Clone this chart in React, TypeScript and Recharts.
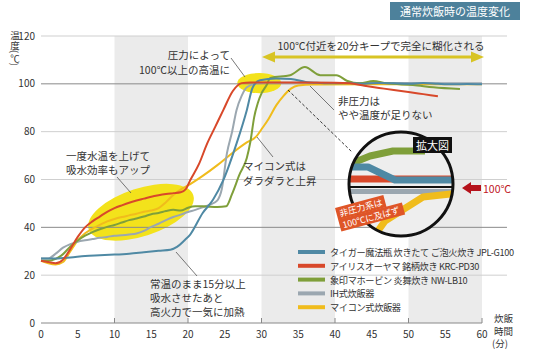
import React from "react";
import {
  LineChart,
  Line,
  XAxis,
  YAxis,
  ReferenceArea,
  ReferenceLine,
  Legend,
} from "recharts";

// time (min) / temperature (°C)
const tigerData = [
  { t: 0, v: 27 }, { t: 2, v: 27 }, { t: 4, v: 27.4 }, { t: 6, v: 28 },
  { t: 8, v: 28.3 }, { t: 10, v: 28.6 }, { t: 12, v: 29 }, { t: 14, v: 29.6 },
  { t: 16, v: 30.2 }, { t: 17.6, v: 30.6 }, { t: 18.5, v: 31.8 }, { t: 19.5, v: 34.5 },
  { t: 20.3, v: 37 }, { t: 22, v: 46 }, { t: 23.4, v: 51.5 }, { t: 24.8, v: 59.7 },
  { t: 26.6, v: 75 }, { t: 28, v: 89 }, { t: 28.8, v: 98.5 }, { t: 29.8, v: 101.5 },
  { t: 32, v: 102.2 }, { t: 34, v: 102 }, { t: 36, v: 100.8 }, { t: 38, v: 100.4 },
  { t: 40, v: 100.2 }, { t: 42, v: 100.3 }, { t: 44, v: 100 }, { t: 46, v: 100.4 },
  { t: 48, v: 100.2 }, { t: 50, v: 100 }, { t: 52, v: 100.3 }, { t: 54, v: 100 },
  { t: 56, v: 99.8 }, { t: 58, v: 99.9 }, { t: 60, v: 99.8 },
];

const irisData = [
  { t: 0, v: 26 }, { t: 1, v: 25.5 }, { t: 2, v: 25 }, { t: 3, v: 26.5 },
  { t: 4, v: 31 }, { t: 5, v: 36 }, { t: 6, v: 40 }, { t: 7, v: 42.5 },
  { t: 8, v: 44.5 }, { t: 9, v: 46.5 }, { t: 10, v: 48 }, { t: 11, v: 49.2 },
  { t: 12, v: 50.3 }, { t: 13, v: 51.2 }, { t: 14, v: 52 }, { t: 15, v: 52.8 },
  { t: 16, v: 53.4 }, { t: 17, v: 53.9 }, { t: 18, v: 54.3 }, { t: 19, v: 54.7 },
  { t: 19.7, v: 56 }, { t: 20.3, v: 59.7 }, { t: 21.5, v: 66.5 }, { t: 22.6, v: 75 },
  { t: 23.7, v: 82 }, { t: 24.8, v: 89 }, { t: 26.1, v: 97 }, { t: 27.3, v: 100.3 },
  { t: 28.5, v: 100.6 }, { t: 35, v: 100.6 }, { t: 40, v: 100.5 }, { t: 42, v: 100.2 },
  { t: 44, v: 99.2 }, { t: 46, v: 98.3 }, { t: 48, v: 97.4 }, { t: 50, v: 96.6 },
  { t: 52, v: 95.7 }, { t: 54, v: 94.8 },
];

const zojirushiData = [
  { t: 0, v: 26 }, { t: 1, v: 26 }, { t: 2, v: 26.8 }, { t: 3, v: 28.8 },
  { t: 4, v: 32 }, { t: 5, v: 34.5 }, { t: 6, v: 36.5 }, { t: 7, v: 38 },
  { t: 8, v: 39.2 }, { t: 9, v: 40.2 }, { t: 10, v: 41 }, { t: 11, v: 42 },
  { t: 12, v: 43 }, { t: 13, v: 43.7 }, { t: 14, v: 44.5 }, { t: 15, v: 45.5 },
  { t: 16, v: 46 }, { t: 17, v: 46.8 }, { t: 18, v: 47.3 }, { t: 19, v: 47 },
  { t: 20, v: 48.2 }, { t: 21, v: 48.8 }, { t: 22, v: 48.8 }, { t: 23, v: 48.6 },
  { t: 24, v: 48.5 }, { t: 25.2, v: 48.8 }, { t: 26, v: 54 }, { t: 27, v: 62 },
  { t: 28, v: 69 }, { t: 28.5, v: 76 }, { t: 29, v: 86 }, { t: 29.5, v: 92 },
  { t: 30, v: 96 }, { t: 30.7, v: 99.5 }, { t: 31.2, v: 102.5 }, { t: 33.9, v: 103.6 },
  { t: 35.9, v: 107 }, { t: 38, v: 103.6 }, { t: 40.2, v: 103.6 }, { t: 41.6, v: 101.3 },
  { t: 43.4, v: 100.2 }, { t: 45.2, v: 101.2 }, { t: 47, v: 100.2 }, { t: 50.6, v: 99.5 },
  { t: 53.4, v: 98.6 }, { t: 57, v: 97.8 },
];

const ihData = [
  { t: 0, v: 27 }, { t: 1, v: 27 }, { t: 2, v: 29 }, { t: 3, v: 31.5 },
  { t: 4, v: 33 }, { t: 5, v: 34 }, { t: 6, v: 34.6 }, { t: 7, v: 35.1 },
  { t: 8, v: 35.6 }, { t: 9, v: 36 }, { t: 10, v: 36.5 }, { t: 11, v: 36.7 },
  { t: 12, v: 37 }, { t: 13, v: 37.4 }, { t: 14, v: 38.5 }, { t: 15, v: 40.2 },
  { t: 16, v: 41.5 }, { t: 17, v: 43 }, { t: 18, v: 44.3 }, { t: 19, v: 45.3 },
  { t: 20, v: 46.4 }, { t: 21, v: 47.3 }, { t: 22, v: 48.4 }, { t: 23, v: 49.5 },
  { t: 24, v: 51.3 }, { t: 24.6, v: 56 }, { t: 25.3, v: 71 }, { t: 26, v: 80 },
  { t: 26.6, v: 89 }, { t: 27.3, v: 95 }, { t: 28, v: 98.6 }, { t: 29.4, v: 100.2 },
  { t: 31, v: 100.5 }, { t: 40, v: 100.4 }, { t: 50, v: 100.3 }, { t: 60, v: 100.2 },
];

const maiconData = [
  { t: 0, v: 26 }, { t: 1, v: 25 }, { t: 2, v: 24.5 }, { t: 3, v: 25.5 },
  { t: 4, v: 30 }, { t: 5, v: 34.5 }, { t: 6, v: 37.5 }, { t: 7, v: 39.5 },
  { t: 8, v: 41 }, { t: 9, v: 42.5 }, { t: 10, v: 43.5 }, { t: 11, v: 44.3 },
  { t: 12, v: 45 }, { t: 13, v: 45.7 }, { t: 14, v: 46.5 }, { t: 15, v: 47 },
  { t: 16, v: 48 }, { t: 17, v: 50.5 }, { t: 18, v: 53.5 }, { t: 19, v: 55.8 },
  { t: 20, v: 57.5 }, { t: 22, v: 61.5 }, { t: 24, v: 66 }, { t: 26, v: 71 },
  { t: 28, v: 75.5 }, { t: 29.3, v: 78 }, { t: 30, v: 81 }, { t: 31, v: 85.5 },
  { t: 32, v: 91 }, { t: 33, v: 95 }, { t: 34, v: 98 }, { t: 35, v: 99.3 },
  { t: 37, v: 99.7 }, { t: 45, v: 99.8 }, { t: 60, v: 99.8 },
];

const xTicks = [0, 5, 10, 15, 20, 25, 30, 35, 40, 45, 50, 55, 60];
const yTicks = [0, 20, 40, 60, 80, 100, 120];
const shadeBands = [[10, 20], [30, 40], [50, 60]];
const gridLevels = [20, 40, 60, 80, 100, 120];
const strongLevels = [40, 100];

// drawing order (back to front)
const series = [
  { name: "マイコン式炊飯器", color: "#f0bc1c", data: maiconData },
  { name: "IH式炊飯器", color: "#9ba7b0", data: ihData },
  { name: "象印マホービン 炎舞炊き NW-LB10", color: "#7f9f3a", data: zojirushiData },
  { name: "タイガー魔法瓶 炊きたて ご泡火炊き JPL-G100", color: "#4f89a4", data: tigerData },
  { name: "アイリスオーヤマ 銘柄炊き KRC-PD30", color: "#d8482a", data: irisData },
];
const legendOrder = [
  "タイガー魔法瓶 炊きたて ご泡火炊き JPL-G100",
  "アイリスオーヤマ 銘柄炊き KRC-PD30",
  "象印マホービン 炎舞炊き NW-LB10",
  "IH式炊飯器",
  "マイコン式炊飯器",
];

const FONT = "'Noto Sans CJK JP', 'Noto Sans', sans-serif";
const TXT = "#333";

function XTick(props: any) {
  const { x, y, payload } = props;
  const v = payload.value;
  return (
    <g>
      {v % 10 === 0 && v > 0 && (
        <line x1={x} x2={x} y1={y - 10} y2={y - 15} stroke="#888" />
      )}
      <text x={x} y={y} textAnchor="middle" dominantBaseline="central" fontSize={10} fill={TXT}>
        {v}
      </text>
    </g>
  );
}

function LegendBox(props: any) {
  const items = [...(props.payload || [])].sort(
    (a: any, b: any) => legendOrder.indexOf(a.value) - legendOrder.indexOf(b.value)
  );
  return (
    <svg width={250} height={72} style={{ display: "block" }}>
      {items.map((it: any, i: number) => (
        <g key={it.value} transform={`translate(0, ${7 + i * 13.8})`}>
          <line x1={0} x2={27} y1={0} y2={0} stroke={it.color} strokeWidth={4} />
          <text
            x={32}
            y={0}
            dominantBaseline="central"
            fontSize={9.2}
            letterSpacing={-0.35}
            fill={TXT}
            fontFamily={FONT}
          >
            {it.value}
          </text>
        </g>
      ))}
    </svg>
  );
}

const tiltedEllipse = (p: any) => (
  <ellipse
    cx={p.x + p.width / 2}
    cy={p.y + p.height / 2}
    rx={p.width * 0.52}
    ry={p.height * 0.42}
    transform={`rotate(-18 ${p.x + p.width / 2} ${p.y + p.height / 2})`}
    fill="#f3e21b"
  />
);
const flatEllipse = (p: any) => (
  <ellipse
    cx={p.x + p.width / 2}
    cy={p.y + p.height / 2}
    rx={p.width / 2}
    ry={p.height / 2}
    fill="#f3e21b"
  />
);

function Annotations() {
  const t = { fontSize: 10.5, fill: TXT, dominantBaseline: "central" as const };
  return (
    <svg
      width={551}
      height={353}
      style={{ position: "absolute", left: 0, top: 0, pointerEvents: "none", fontFamily: FONT }}
    >
      <defs>
        <clipPath id="lens">
          <circle cx={401} cy={184} r={52} />
        </clipPath>
      </defs>

      {/* title box */}
      <rect x={390} y={2} width={130} height={18} fill="#4d819b" />
      <text x={455} y={11} textAnchor="middle" {...t} fontSize={11} fill="#fff">通常炊飯時の温度変化</text>

      {/* axis titles */}
      <text x={15} y={31} fontSize={9.5} fill={TXT} style={{ writingMode: "vertical-rl" } as any}>温度(℃)</text>
      <text x={494} y={318} fontSize={9.5} fill={TXT} dominantBaseline="central">炊飯</text>
      <text x={494} y={330.5} fontSize={9.5} fill={TXT} dominantBaseline="central">時間</text>
      <text x={492} y={343} fontSize={9.5} fill={TXT} dominantBaseline="central">(分)</text>

      {/* keep-time arrow */}
      <text x={381} y={45} textAnchor="middle" {...t}>100℃付近を20分キープで完全に糊化される</text>
      <line x1={272} x2={474} y1={57} y2={57} stroke="#d8c424" strokeWidth={3} />
      <polygon points="262,57 275,51.5 275,62.5" fill="#d8c424" />
      <polygon points="484,57 471,51.5 471,62.5" fill="#d8c424" />

      {/* callouts */}
      <text x={230} y={54} textAnchor="end" {...t}>圧力によって</text>
      <text x={230} y={69} textAnchor="end" {...t}>100℃以上の高温に</text>
      <line x1={231} y1={58} x2={245} y2={77} stroke="#555" strokeWidth={0.8} />

      <text x={338} y={100} {...t}>非圧力は</text>
      <text x={338} y={114} {...t}>やや温度が足りない</text>
      <line x1={310} y1={86} x2={334} y2={110} stroke="#555" strokeWidth={0.8} />
      <line x1={288} y1={90} x2={352} y2={152} stroke="#222" strokeWidth={0.9} strokeDasharray="3 2" />

      <text x={243} y={165} {...t}>マイコン式は</text>
      <text x={243} y={180} {...t}>ダラダラと上昇</text>
      <line x1={257} y1={137} x2={273} y2={157} stroke="#555" strokeWidth={0.8} />

      <text x={108} y={155} textAnchor="middle" {...t}>一度水温を上げて</text>
      <text x={108} y={169} textAnchor="middle" {...t}>吸水効率もアップ</text>
      <line x1={117} y1={177} x2={131} y2={193} stroke="#555" strokeWidth={0.8} />

      <text x={150} y={283} {...t}>常温のまま15分以上</text>
      <text x={150} y={297} {...t}>吸水させたあと</text>
      <text x={150} y={311} {...t}>高火力で一気に加熱</text>
      <line x1={176} y1={252} x2={197} y2={276} stroke="#555" strokeWidth={0.8} />

      {/* magnified inset */}
      <circle cx={401} cy={184} r={52} fill="#eeeeee" />
      <g clipPath="url(#lens)" fill="none" strokeLinejoin="round">
        <polyline points="340,168 370,156 393,151 425,151" stroke="#7f9f3a" strokeWidth={7} />
        <polyline points="340,179 460,179" stroke="#d8482a" strokeWidth={7} />
        <polyline points="340,167 368,167 395,180 460,180" stroke="#4f89a4" strokeWidth={7} />
        <line x1={340} x2={460} y1={187} y2={187} stroke="#111" strokeWidth={2} />
        <line x1={340} x2={460} y1={191.5} y2={191.5} stroke="#9ba7b0" strokeWidth={5} />
        <polyline points="368,245 385,221 423,197 460,193" stroke="#f0bc1c" strokeWidth={7} />
      </g>
      <circle cx={401} cy={184} r={52} fill="none" stroke="#111" strokeWidth={3} />
      <rect x={413} y={137} width={39} height={16} fill="#111" />
      <text x={432.5} y={145} textAnchor="middle" {...t} fontSize={11} fill="#fff">拡大図</text>

      <polygon points="462,188 471,182 471,185 481,185 481,191 471,191 471,194" fill="#b5121b" />
      <text x={483} y={188} {...t} fill="#c0151d">100℃</text>

      <g transform="rotate(-15 370 211)">
        <rect x={337} y={199} width={50} height={12.5} fill="#df5527" />
        <rect x={337} y={211} width={66} height={12.5} fill="#df5527" />
        <text x={340} y={205.3} fontSize={8.8} fill="#fff" dominantBaseline="central">非圧力系は</text>
        <text x={340} y={217.3} fontSize={8.8} fill="#fff" dominantBaseline="central">100℃に及ばず</text>
      </g>
    </svg>
  );
}

export default function App() {
  return (
    <div style={{ position: "absolute", left: 0, top: 0, width: 551, height: 353, background: "#fff", fontFamily: FONT }}>
      <LineChart width={551} height={353} margin={{ top: 36, right: 69, bottom: 5, left: 5 }}>
        <XAxis
          dataKey="t"
          type="number"
          domain={[0, 60]}
          ticks={xTicks}
          stroke="#888"
          tickLine={false}
          tickSize={0}
          tickMargin={10}
          height={25}
          tick={<XTick />}
          allowDuplicatedCategory={false}
        />
        <YAxis
          type="number"
          domain={[0, 120]}
          ticks={yTicks}
          axisLine={false}
          tickLine={false}
          tickSize={0}
          tickMargin={6}
          width={36}
          tick={{ fontSize: 10, fill: TXT }}
        />
        {shadeBands.map(([a, b]) => (
          <ReferenceArea key={a} x1={a} x2={b} y1={0} y2={120} fill="#ebebeb" fillOpacity={1} stroke="none" />
        ))}
        <ReferenceArea x1={6.4} x2={20.8} y1={34.4} y2={58.2} shape={tiltedEllipse} />
        <ReferenceArea x1={26.7} x2={32.7} y1={96.1} y2={104.5} shape={flatEllipse} />
        {gridLevels.map((g) => (
          <ReferenceLine
            key={g}
            segment={[{ x: 0, y: g }, { x: 63.4, y: g }]}
            stroke={strongLevels.includes(g) ? "#8a8a8a" : "#cfcfcf"}
            strokeWidth={1}
            ifOverflow="visible"
          />
        ))}
        <Legend
          layout="vertical"
          align="center"
          verticalAlign="middle"
          content={<LegendBox />}
          wrapperStyle={{ left: 298, top: 245, width: 250 }}
        />
        {series.map((s) => (
          <Line
            key={s.name}
            data={s.data}
            dataKey="v"
            name={s.name}
            type="monotone"
            stroke={s.color}
            strokeWidth={2}
            dot={false}
            isAnimationActive={false}
          />
        ))}
      </LineChart>
      <Annotations />
    </div>
  );
}
